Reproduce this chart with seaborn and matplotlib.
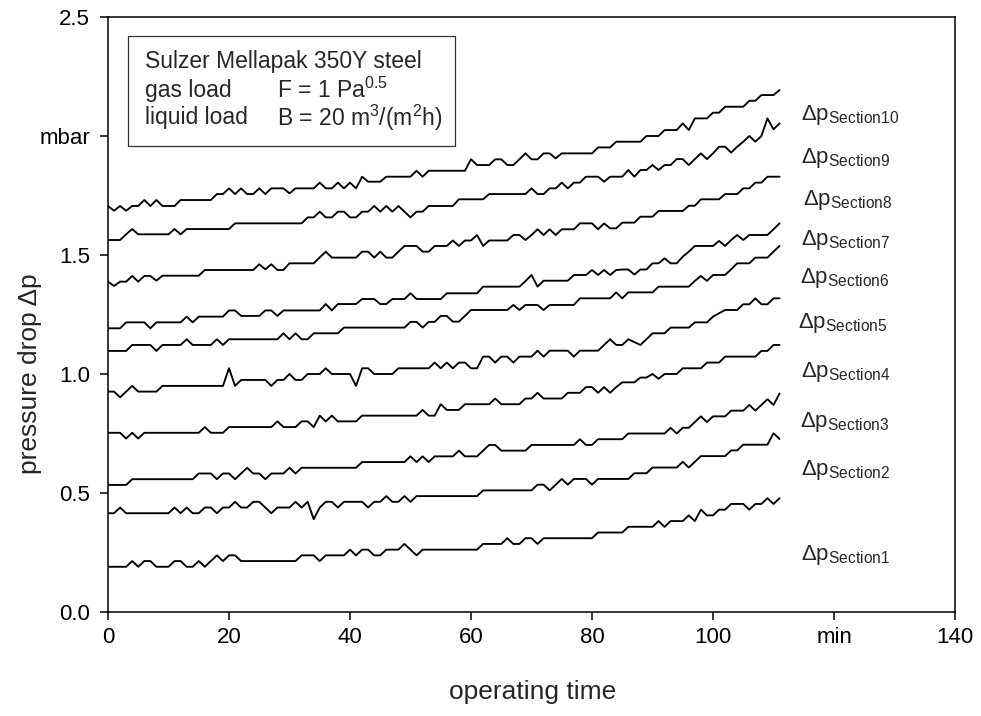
import matplotlib
matplotlib.use("Agg")
import matplotlib.pyplot as plt
import pandas as pd
import seaborn as sns
from matplotlib.patches import Rectangle

# ---------------- data ----------------
time_min = list(range(112))

dp_section1 = [
    .190, .190, .190, .190, .214, .190, .214, .214, .190, .190,
    .190, .214, .214, .190, .190, .214, .190, .214, .238, .214,
    .238, .238, .214, .214, .214, .214, .214, .214, .214, .214,
    .214, .214, .238, .238, .238, .214, .238, .238, .238, .238,
    .262, .238, .262, .262, .238, .238, .262, .262, .262, .286,
    .262, .238, .262, .262, .262, .262, .262, .262, .262, .262,
    .262, .262, .286, .286, .286, .286, .310, .286, .286, .310,
    .310, .286, .310, .310, .310, .310, .310, .310, .310, .310,
    .310, .334, .334, .334, .334, .334, .358, .358, .358, .358,
    .358, .382, .358, .382, .382, .382, .406, .382, .430, .406,
    .406, .430, .430, .454, .454, .454, .430, .454, .454, .478,
    .454, .478]

dp_section2 = [
    .415, .415, .439, .415, .415, .415, .415, .415, .415, .415,
    .415, .439, .415, .439, .415, .415, .439, .439, .415, .439,
    .439, .463, .439, .439, .463, .463, .439, .415, .439, .439,
    .439, .463, .439, .463, .390, .439, .463, .463, .439, .463,
    .463, .463, .463, .439, .463, .463, .487, .463, .463, .487,
    .463, .487, .487, .487, .487, .487, .487, .487, .487, .487,
    .487, .487, .511, .511, .511, .511, .511, .511, .511, .511,
    .511, .535, .535, .511, .535, .559, .535, .559, .559, .559,
    .535, .559, .559, .559, .559, .559, .559, .583, .583, .583,
    .607, .607, .607, .607, .607, .631, .607, .631, .655, .655,
    .655, .655, .655, .679, .679, .703, .703, .703, .703, .703,
    .751, .727]

dp_section3 = [
    .534, .534, .534, .534, .558, .558, .558, .558, .558, .558,
    .558, .558, .558, .558, .558, .582, .582, .582, .558, .582,
    .582, .558, .582, .606, .582, .582, .558, .582, .582, .582,
    .606, .582, .606, .606, .606, .606, .606, .606, .606, .606,
    .606, .606, .630, .630, .630, .630, .630, .630, .630, .630,
    .654, .630, .654, .630, .654, .654, .654, .654, .678, .654,
    .654, .654, .678, .702, .702, .678, .678, .678, .678, .678,
    .702, .702, .702, .702, .702, .702, .702, .702, .726, .702,
    .702, .726, .726, .726, .726, .726, .750, .750, .750, .750,
    .750, .750, .750, .774, .750, .774, .774, .798, .822, .798,
    .822, .822, .822, .846, .846, .846, .870, .846, .870, .894,
    .870, .918]

dp_section4 = [
    .753, .753, .753, .729, .753, .729, .753, .753, .753, .753,
    .753, .753, .753, .753, .753, .753, .777, .753, .753, .753,
    .777, .777, .777, .777, .777, .777, .777, .777, .801, .777,
    .777, .777, .801, .801, .777, .825, .801, .825, .801, .801,
    .801, .801, .825, .825, .825, .825, .825, .825, .825, .825,
    .825, .825, .849, .825, .825, .873, .849, .849, .849, .873,
    .873, .873, .873, .873, .897, .873, .873, .873, .873, .897,
    .897, .921, .897, .897, .897, .897, .921, .921, .921, .945,
    .945, .921, .945, .921, .945, .965, .965, .965, .985, .985,
    1.000, .980, 1.000, 1.000, 1.000, 1.024, 1.024, 1.024, 1.024, 1.048,
    1.048, 1.048, 1.073, 1.073, 1.073, 1.073, 1.073, 1.073, 1.097, 1.097,
    1.122, 1.122]

dp_section5 = [
    .926, .926, .902, .926, .950, .926, .926, .926, .926, .950,
    .950, .950, .950, .950, .950, .950, .950, .950, .950, .950,
    1.024, .950, .975, .975, .975, .975, .975, .950, .975, .975,
    1.000, .975, .975, 1.000, 1.000, 1.000, 1.024, 1.000, 1.000, 1.000,
    1.000, .950, 1.024, 1.024, 1.000, 1.000, 1.000, 1.000, 1.024, 1.024,
    1.024, 1.024, 1.024, 1.024, 1.048, 1.024, 1.048, 1.024, 1.048, 1.048,
    1.024, 1.024, 1.073, 1.073, 1.048, 1.073, 1.073, 1.048, 1.073, 1.073,
    1.073, 1.098, 1.073, 1.098, 1.098, 1.098, 1.098, 1.073, 1.098, 1.098,
    1.098, 1.098, 1.122, 1.146, 1.122, 1.122, 1.146, 1.134, 1.122, 1.146,
    1.171, 1.171, 1.171, 1.195, 1.195, 1.195, 1.195, 1.217, 1.217, 1.217,
    1.241, 1.255, 1.269, 1.269, 1.269, 1.293, 1.293, 1.318, 1.293, 1.293,
    1.318, 1.318]

dp_section6 = [
    1.097, 1.097, 1.097, 1.097, 1.122, 1.122, 1.122, 1.122, 1.097, 1.122,
    1.122, 1.122, 1.122, 1.146, 1.122, 1.122, 1.122, 1.122, 1.146, 1.122,
    1.146, 1.146, 1.146, 1.146, 1.146, 1.146, 1.146, 1.146, 1.146, 1.171,
    1.146, 1.171, 1.146, 1.146, 1.171, 1.171, 1.171, 1.171, 1.171, 1.195,
    1.195, 1.195, 1.195, 1.195, 1.195, 1.195, 1.195, 1.195, 1.195, 1.195,
    1.219, 1.219, 1.195, 1.219, 1.219, 1.244, 1.244, 1.220, 1.220, 1.244,
    1.269, 1.269, 1.269, 1.269, 1.269, 1.269, 1.269, 1.290, 1.269, 1.290,
    1.290, 1.290, 1.269, 1.290, 1.290, 1.290, 1.290, 1.290, 1.318, 1.318,
    1.318, 1.318, 1.318, 1.318, 1.343, 1.318, 1.343, 1.343, 1.343, 1.343,
    1.343, 1.367, 1.367, 1.367, 1.367, 1.367, 1.367, 1.391, 1.412, 1.391,
    1.416, 1.416, 1.416, 1.440, 1.465, 1.465, 1.465, 1.489, 1.489, 1.489,
    1.514, 1.538]

dp_section7 = [
    1.192, 1.192, 1.192, 1.217, 1.217, 1.217, 1.217, 1.192, 1.217, 1.217,
    1.217, 1.217, 1.217, 1.241, 1.217, 1.241, 1.241, 1.241, 1.241, 1.241,
    1.267, 1.267, 1.244, 1.244, 1.244, 1.244, 1.267, 1.267, 1.244, 1.267,
    1.267, 1.267, 1.267, 1.267, 1.267, 1.267, 1.294, 1.267, 1.294, 1.294,
    1.294, 1.294, 1.315, 1.315, 1.315, 1.294, 1.294, 1.315, 1.315, 1.315,
    1.339, 1.315, 1.315, 1.315, 1.315, 1.315, 1.339, 1.339, 1.339, 1.339,
    1.339, 1.339, 1.367, 1.367, 1.367, 1.367, 1.367, 1.367, 1.367, 1.390,
    1.416, 1.367, 1.392, 1.392, 1.392, 1.392, 1.392, 1.416, 1.416, 1.416,
    1.437, 1.416, 1.437, 1.416, 1.437, 1.439, 1.439, 1.418, 1.439, 1.439,
    1.465, 1.465, 1.486, 1.465, 1.465, 1.493, 1.514, 1.538, 1.538, 1.538,
    1.538, 1.559, 1.538, 1.563, 1.584, 1.563, 1.584, 1.584, 1.584, 1.584,
    1.608, 1.633]

dp_section8 = [
    1.388, 1.370, 1.388, 1.388, 1.412, 1.388, 1.412, 1.412, 1.392, 1.413,
    1.413, 1.413, 1.413, 1.413, 1.413, 1.413, 1.437, 1.437, 1.437, 1.437,
    1.437, 1.437, 1.437, 1.437, 1.437, 1.461, 1.440, 1.461, 1.437, 1.437,
    1.465, 1.465, 1.465, 1.465, 1.465, 1.490, 1.514, 1.489, 1.489, 1.489,
    1.489, 1.489, 1.514, 1.514, 1.489, 1.514, 1.489, 1.489, 1.514, 1.538,
    1.538, 1.538, 1.514, 1.514, 1.538, 1.538, 1.538, 1.561, 1.538, 1.561,
    1.561, 1.584, 1.538, 1.561, 1.561, 1.561, 1.561, 1.584, 1.584, 1.563,
    1.584, 1.608, 1.584, 1.608, 1.584, 1.608, 1.608, 1.608, 1.633, 1.633,
    1.633, 1.608, 1.633, 1.612, 1.612, 1.636, 1.636, 1.636, 1.661, 1.661,
    1.661, 1.685, 1.685, 1.685, 1.685, 1.685, 1.707, 1.707, 1.734, 1.734,
    1.734, 1.734, 1.756, 1.756, 1.756, 1.780, 1.780, 1.804, 1.804, 1.829,
    1.829, 1.829]

dp_section9 = [
    1.563, 1.563, 1.563, 1.587, 1.609, 1.587, 1.587, 1.587, 1.587, 1.587,
    1.587, 1.609, 1.587, 1.609, 1.609, 1.609, 1.609, 1.609, 1.609, 1.609,
    1.609, 1.633, 1.633, 1.633, 1.633, 1.633, 1.633, 1.633, 1.633, 1.633,
    1.633, 1.633, 1.633, 1.658, 1.658, 1.682, 1.658, 1.658, 1.682, 1.682,
    1.658, 1.658, 1.682, 1.682, 1.706, 1.682, 1.706, 1.682, 1.706, 1.682,
    1.658, 1.682, 1.682, 1.706, 1.706, 1.706, 1.706, 1.706, 1.734, 1.734,
    1.734, 1.734, 1.734, 1.756, 1.756, 1.756, 1.756, 1.756, 1.756, 1.756,
    1.780, 1.756, 1.756, 1.780, 1.780, 1.804, 1.780, 1.804, 1.804, 1.829,
    1.829, 1.829, 1.808, 1.829, 1.829, 1.829, 1.857, 1.829, 1.857, 1.857,
    1.878, 1.857, 1.878, 1.878, 1.903, 1.903, 1.878, 1.903, 1.927, 1.903,
    1.927, 1.955, 1.955, 1.930, 1.955, 1.976, 2.000, 1.976, 2.000, 2.074,
    2.028, 2.053]

dp_section10 = [
    1.706, 1.686, 1.706, 1.686, 1.706, 1.706, 1.731, 1.706, 1.731, 1.706,
    1.706, 1.706, 1.731, 1.731, 1.731, 1.731, 1.731, 1.731, 1.756, 1.756,
    1.780, 1.756, 1.780, 1.756, 1.756, 1.780, 1.756, 1.780, 1.780, 1.780,
    1.759, 1.780, 1.780, 1.780, 1.780, 1.804, 1.780, 1.780, 1.804, 1.780,
    1.804, 1.780, 1.829, 1.808, 1.808, 1.808, 1.829, 1.829, 1.829, 1.829,
    1.829, 1.854, 1.829, 1.854, 1.854, 1.854, 1.854, 1.854, 1.854, 1.854,
    1.902, 1.878, 1.878, 1.878, 1.902, 1.902, 1.878, 1.878, 1.902, 1.927,
    1.902, 1.902, 1.927, 1.927, 1.906, 1.927, 1.927, 1.927, 1.927, 1.927,
    1.927, 1.952, 1.952, 1.952, 1.976, 1.976, 1.976, 1.976, 1.976, 2.000,
    2.000, 2.000, 2.025, 2.025, 2.025, 2.053, 2.025, 2.074, 2.074, 2.074,
    2.098, 2.098, 2.123, 2.123, 2.123, 2.123, 2.148, 2.148, 2.172, 2.172,
    2.172, 2.193]

section_names = ["Section1", "Section2", "Section3", "Section4", "Section5",
                 "Section6", "Section7", "Section8", "Section9", "Section10"]
series = [dp_section1, dp_section2, dp_section3, dp_section4, dp_section5,
          dp_section6, dp_section7, dp_section8, dp_section9, dp_section10]

x_tick_values = [0, 20, 40, 60, 80, 100, 120, 140]
x_tick_labels = ["0", "20", "40", "60", "80", "100", "min", "140"]
y_tick_values = [0.0, 0.5, 1.0, 1.5, 2.0, 2.5]
y_tick_labels = ["0.0", "0.5", "1.0", "1.5", "mbar", "2.5"]

info_left = ["Sulzer Mellapak 350Y steel", "gas load", "liquid load"]
info_right = ["", r"F = 1 Pa$^{0.5}$", r"B = 20 m$^{3}$/(m$^{2}$h)"]

# label anchor positions (layout, in data units)
label_x = [114.5, 114.6, 114.3, 114.6, 114.1, 114.3, 114.6, 114.8, 114.5, 114.5]
label_y = [0.218, 0.576, 0.777, 0.987, 1.193, 1.382, 1.542, 1.710, 1.887, 2.067]

# ---------------- build long-form table ----------------
frames = []
for name, vals in zip(section_names, series):
    frames.append(pd.DataFrame({"time": time_min, "dp": vals, "section": name}))
df = pd.concat(frames, ignore_index=True)

# ---------------- style ----------------
sns.set_style("ticks")
plt.rcParams["font.family"] = ["Liberation Sans", "DejaVu Sans"]
plt.rcParams["mathtext.fontset"] = "custom"
plt.rcParams["mathtext.rm"] = "Liberation Sans"
plt.rcParams["mathtext.it"] = "Liberation Sans"
plt.rcParams["mathtext.bf"] = "Liberation Sans:bold"
plt.rcParams["mathtext.default"] = "regular"

fig = plt.figure(figsize=(9.81, 7.16), dpi=100)
ax = fig.add_axes([108 / 981, 1 - 612 / 716, 847 / 981, 595 / 716])

sns.lineplot(data=df, x="time", y="dp", hue="section", units="section",
             estimator=None, palette=["black"] * 10, legend=False,
             linewidth=1.35, ax=ax)

ax.set_xlim(0, 140)
ax.set_ylim(0, 2.5)
ax.set_xticks(x_tick_values)
ax.set_xticklabels(x_tick_labels)
ax.set_yticks(y_tick_values)
ax.set_yticklabels(y_tick_labels)
ax.tick_params(axis="both", direction="out", length=6, width=1.1,
               color="black", labelsize=16, labelcolor="black")
ax.tick_params(axis="y", pad=7)
ax.tick_params(axis="x", pad=5)
for sp in ax.spines.values():
    sp.set_visible(True)
    sp.set_color("black")
    sp.set_linewidth(1.1)

ax.set_xlabel("operating time", fontsize=19, va="center")
ax.xaxis.set_label_coords(0.501, -0.135)
ax.set_ylabel("pressure drop Δp", fontsize=19, va="center")
ax.yaxis.set_label_coords(-0.092, 0.40)

# info box
box = Rectangle((3.3, 1.958), 54.1, 0.462, fill=False, edgecolor="#333333",
                linewidth=0.9, transform=ax.transData, clip_on=False)
ax.add_patch(box)
info_y = [2.311, 2.193, 2.076]
for yy, lt, rt in zip(info_y, info_left, info_right):
    ax.text(6.1, yy, lt, fontsize=16.5, va="center", ha="left")
    if rt:
        ax.text(27.9, yy, rt, fontsize=16.5, va="center", ha="left")

# section labels
for name, lx, ly in zip(section_names, label_x, label_y):
    ax.text(lx, ly, r"$Δp_{\mathregular{%s}}$" % name, fontsize=16,
            ha="left", va="baseline")

fig.savefig("out.png", dpi=100)
